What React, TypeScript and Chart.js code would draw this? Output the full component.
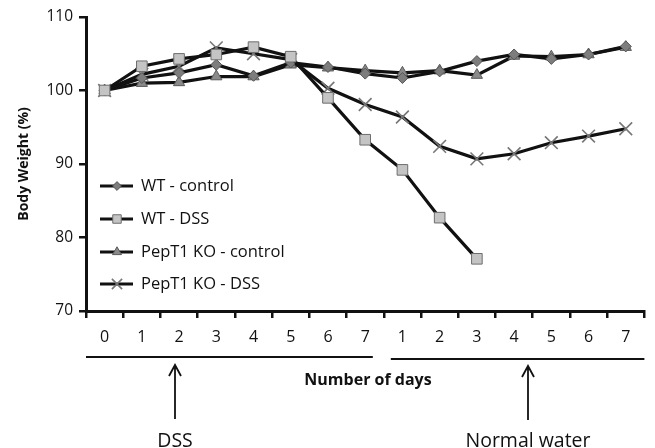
import React, { useEffect, useRef } from 'react';
import { Chart, registerables } from 'chart.js';
import { drawPoint } from 'chart.js/helpers';

Chart.register(...registerables);

const dayLabels = ['0', '1', '2', '3', '4', '5', '6', '7', '1', '2', '3', '4', '5', '6', '7'];
const wtControl = [100, 101.7, 102.4, 103.5, 102.0, 103.8, 103.2, 102.3, 101.7, 102.6, 104.0, 104.9, 104.3, 104.9, 106.0];
const wtDss = [100, 103.3, 104.3, 104.9, 105.9, 104.6, 99.0, 93.3, 89.2, 82.7, 77.1, null, null, null, null];
const koControl = [100, 101.0, 101.1, 101.9, 101.9, 103.5, 103.1, 102.7, 102.4, 102.7, 102.1, 104.7, 104.6, 104.9, 105.9];
const koDss = [100, 102.2, 103.3, 105.8, 105.0, 104.2, 100.3, 98.1, 96.4, 92.4, 90.7, 91.4, 92.9, 93.8, 94.8];
const seriesNames = ['WT - control', 'WT - DSS', 'PepT1 KO - control', 'PepT1 KO - DSS'];
const yTicks = [70, 80, 90, 100, 110];
const yTitle = 'Body Weight (%)';
const xTitle = 'Number of days';
const phase1Label = 'DSS';
const phase2Label = 'Normal water';

const FONT = '"Open Sans", "DejaVu Sans", sans-serif';

const extrasPlugin = {
  id: 'extras',
  afterDraw(chart: any) {
    const ctx = chart.ctx;
    const xs = chart.scales.x;
    ctx.save();
    // legend
    const rows = [186, 219, 252, 284];
    chart.data.datasets.forEach((ds: any, i: number) => {
      const y = rows[i];
      ctx.strokeStyle = '#111';
      ctx.lineWidth = 3;
      ctx.beginPath();
      ctx.moveTo(100, y);
      ctx.lineTo(133, y);
      ctx.stroke();
      ctx.fillStyle = ds.pointBackgroundColor;
      ctx.strokeStyle = ds.pointBorderColor;
      ctx.lineWidth = ds.pointBorderWidth;
      drawPoint(ctx, { pointStyle: ds.pointStyle, radius: ds.pointRadius * 0.8, borderWidth: ds.pointBorderWidth, rotation: 0 }, 117, y);
      ctx.fillStyle = '#111';
      ctx.font = `16.5px ${FONT}`;
      ctx.textAlign = 'left';
      ctx.textBaseline = 'middle';
      ctx.fillText(seriesNames[i], 141, y);
    });

    // phase brackets
    const mid = (xs.getPixelForValue(7) + xs.getPixelForValue(8)) / 2;
    ctx.strokeStyle = '#111';
    ctx.lineWidth = 2;
    ctx.beginPath();
    ctx.moveTo(xs.left, 357);
    ctx.lineTo(mid - 11, 357);
    ctx.moveTo(mid + 7, 359);
    ctx.lineTo(xs.right, 359);
    ctx.stroke();

    ctx.fillStyle = '#111';
    ctx.font = `bold 16px ${FONT}`;
    ctx.textAlign = 'center';
    ctx.textBaseline = 'middle';
    ctx.fillText(xTitle, 368, 380);

    const arrow = (x: number, y0: number, y1: number) => {
      ctx.beginPath();
      ctx.moveTo(x, y0);
      ctx.lineTo(x, y1);
      ctx.moveTo(x - 6, y1 + 11);
      ctx.lineTo(x, y1);
      ctx.lineTo(x + 6, y1 + 11);
      ctx.stroke();
    };
    ctx.lineWidth = 1.8;
    arrow(175, 419, 365);
    arrow(528, 420, 366);

    ctx.font = `19.5px ${FONT}`;
    ctx.textBaseline = 'alphabetic';
    ctx.fillText(phase1Label, 175, 447);
    ctx.fillText(phase2Label, 528, 447);
    ctx.restore();
  },
};

export default function App() {
  const ref = useRef<HTMLCanvasElement>(null);
  useEffect(() => {
    if (!ref.current) return;
    const common = { borderColor: '#111', borderWidth: 3.2, tension: 0, pointBorderWidth: 1, spanGaps: false };
    const chart = new Chart(ref.current, {
      type: 'line',
      data: {
        labels: dayLabels,
        datasets: [
          { ...common, label: seriesNames[0], data: wtControl, pointStyle: 'rectRot', pointRadius: 5.5, pointBackgroundColor: '#7d7d7d', pointBorderColor: '#555', order: 1 },
          { ...common, label: seriesNames[1], data: wtDss, pointStyle: 'rect', pointRadius: 7.5, pointBackgroundColor: '#c4c4c4', pointBorderColor: '#6e6e6e', order: 0 },
          { ...common, label: seriesNames[2], data: koControl, pointStyle: 'triangle', pointRadius: 6.5, pointBackgroundColor: '#8a8a8a', pointBorderColor: '#5a5a5a', order: 2 },
          { ...common, label: seriesNames[3], data: koDss, pointStyle: 'crossRot', pointRadius: 9, pointBorderWidth: 1.6, pointBackgroundColor: '#888', pointBorderColor: '#777', order: 3 },
        ] as any,
      },
      options: {
        animation: false,
        responsive: false,
        maintainAspectRatio: false,
        layout: { padding: { left: 0, right: 5, top: 17, bottom: 0 } },
        plugins: { legend: { display: false }, tooltip: { enabled: false } },
        scales: {
          x: {
            type: 'category',
            offset: true,
            afterFit: (s: any) => { s.height = 137; },
            grid: { display: true, drawOnChartArea: false, drawTicks: true, tickLength: 7, lineWidth: 2.5, color: '#111', offset: true },
            border: { display: true, width: 3, color: '#111' },
            ticks: { color: '#111', font: { family: FONT, size: 16 }, padding: 10, autoSkip: false, maxRotation: 0 },
          },
          y: {
            min: 70,
            max: 110,
            afterFit: (s: any) => { s.width = 86; },
            afterBuildTicks: (s: any) => { s.ticks = yTicks.map((v) => ({ value: v })); },
            grid: { display: true, drawOnChartArea: false, drawTicks: true, tickLength: 7, lineWidth: 2.5, color: '#111' },
            border: { display: true, width: 3, color: '#111' },
            ticks: { color: '#111', font: { family: FONT, size: 15.5 }, padding: 6 },
            title: { display: true, text: yTitle, color: '#111', font: { family: FONT, size: 14, weight: 'bold' }, padding: { top: 16, bottom: 0 } },
          },
        },
      } as any,
      plugins: [extrasPlugin],
    });
    return () => chart.destroy();
  }, []);
  return (
    <div style={{ position: 'absolute', left: 0, top: 0, width: 655, height: 448, background: '#fff' }}>
      <canvas ref={ref} width={655} height={448} />
    </div>
  );
}
